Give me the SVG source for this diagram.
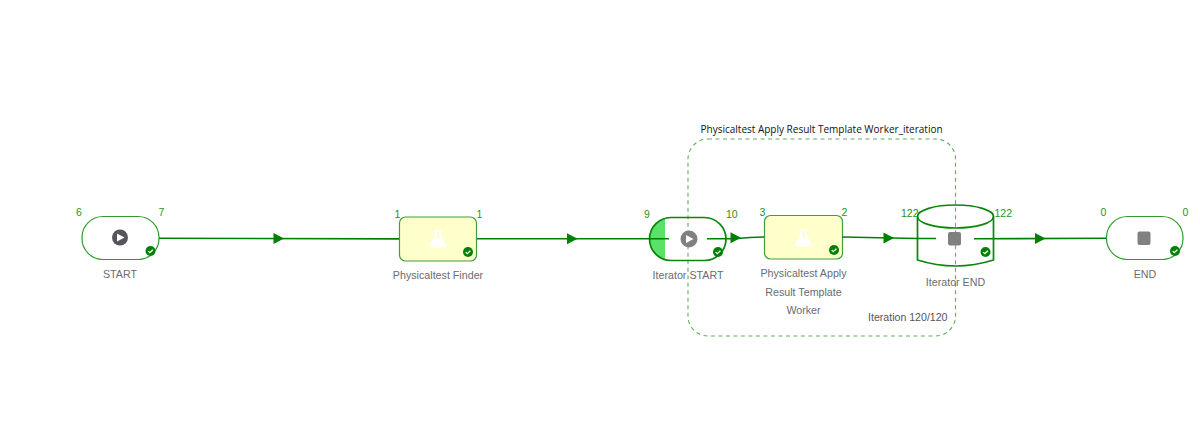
<svg xmlns="http://www.w3.org/2000/svg" width="1200" height="445" viewBox="0 0 1200 445">
<style>
text{font-family:"Liberation Sans",Arial,sans-serif;font-size:10.700px}
.c{fill:#1f931f;font-size:10.500px}
.l{fill:#6b6b70;text-anchor:middle}
.t{fill:#111;font-family:"Open Sans","Noto Sans",sans-serif;font-size:10px}
.n{fill:#fff;stroke:#2f9a2f;stroke-width:1.200}
.w{fill:#ffffcc;stroke:#3f9f3f;stroke-width:1.200}
.e{fill:none;stroke:#008000;stroke-width:1.600}
.i{fill:none;stroke:#0a860a;stroke-width:1.700}
</style>
<defs>
<g id="ok"><circle r="5" fill="#008000"/><path d="M-2.300 0.100L-0.700 1.700L2.400-1.300" fill="none" stroke="#fff" stroke-width="1.300"/></g>
<path id="flask" fill-rule="evenodd" d="M-4.500-9H4.500V-7.400H3.300V-3L8 5.500Q9 8.500 6.600 8.500H-6.600Q-9 8.500-8-5.500Z" fill="none"/>
<path id="flask2" fill-rule="evenodd" d="M-4.500-9H4.500V-7.400H3.300V-3L8 5.500Q9 8.500 6.600 8.500H-6.600Q-9 8.500-8 5.500L-3.300-3V-7.400H-4.500ZM-1.400-7.400V-2.500L-2.400-0.500H2.400L1.400-2.500V-7.400Z" fill="#fff"/>
<path id="ah" d="M-5-5.500L5.500 0L-5 5.500Z" fill="#008000"/>
</defs>
<g id="group-iteration">
<rect x="688" y="139" width="267.500" height="197" rx="20" fill="none" stroke="#5fb05f" stroke-width="1.100" stroke-dasharray="4 3.500"/>
<text class="t" x="700.500" y="133">Physicaltest Apply Result Template Worker_iteration</text>
<text x="868" y="321" style="fill:#555;font-size:10.600px">Iteration 120/120</text>
</g>
<g id="node-start">
<rect class="n" x="82" y="216.500" width="77" height="43" rx="21"/>
<circle cx="120" cy="237.500" r="8" fill="#55565c"/><path d="M117 233.500L124.500 237.500L117 241.500Z" fill="#fff"/>
<use href="#ok" x="150.500" y="251"/>
<text class="c" x="76" y="216">6</text><text class="c" x="158.500" y="216">7</text>
<text class="l" x="120" y="278">START</text>
</g>
<g id="node-finder">
<rect class="w" x="399.500" y="217" width="77" height="44" rx="6"/>
<use href="#flask2" x="438" y="239"/>
<use href="#ok" x="468" y="252"/>
<text class="c" x="394.500" y="218">1</text><text class="c" x="476.500" y="218">1</text>
<text class="l" x="438" y="279">Physicaltest Finder</text>
</g>
<g id="node-iterator-start">
<path d="M665 218V260Q649.500 256 649.500 239Q649.500 222 665 218Z" fill="#5be06a"/>
<rect x="649.500" y="217.500" width="76.500" height="43" rx="21.500" fill="none" stroke="#0a860a" stroke-width="1.700"/>
<circle cx="689" cy="239" r="8.500" fill="#808080"/><path d="M686 235L693.500 239L686 243Z" fill="#fff"/>
<use href="#ok" x="718" y="252"/>
<text class="c" x="644" y="218">9</text><text class="c" x="726" y="218">10</text>
<text class="l" x="688" y="279">Iterator START</text>
</g>
<g id="node-apply">
<rect class="w" x="764.500" y="215.500" width="78" height="43.500" rx="6"/>
<use href="#flask2" x="803.500" y="238"/>
<use href="#ok" x="834" y="250"/>
<text class="c" x="759.500" y="216">3</text><text class="c" x="841.500" y="216">2</text>
<text class="l" x="803.500" y="277">Physicaltest Apply</text>
<text class="l" x="803.500" y="295.500">Result Template</text>
<text class="l" x="803.500" y="313.500">Worker</text>
</g>
<g id="node-iterator-end">
<path class="i" d="M917.500 216.500V260Q955.500 272 993.500 260V216.500"/>
<ellipse class="i" cx="955.500" cy="216.500" rx="38" ry="11.500"/>
<rect x="948" y="232" width="13" height="13.500" rx="2" fill="#808080"/>
<use href="#ok" x="985.500" y="252"/>
<text class="c" x="901" y="217">122</text><text class="c" x="994.500" y="217">122</text>
<text class="l" x="955.500" y="286">Iterator END</text>
</g>
<g id="node-end">
<rect class="n" x="1106.500" y="216.500" width="76.500" height="43" rx="21"/>
<rect x="1137.500" y="231.500" width="13" height="13.500" rx="2" fill="#808080"/>
<use href="#ok" x="1175" y="251"/>
<text class="c" x="1100.500" y="216">0</text><text class="c" x="1182.500" y="216">0</text>
<text class="l" x="1145" y="278">END</text>
</g>
<g id="connectors">
<path class="e" d="M159 238.200L399 238.900"/>
<use href="#ah" x="278.500" y="238.500"/>
<path class="e" d="M477 238.800H669"/>
<use href="#ah" x="572" y="238.800"/>
<path class="e" d="M707 238.800H735Q750 237 764 237"/>
<use href="#ah" x="735.500" y="237.800"/>
<path class="e" d="M842 237L917 238.500H936"/>
<use href="#ah" x="888.500" y="238"/>
<path class="e" d="M974 238.800L1106 238.200"/>
<use href="#ah" x="1040" y="238.500"/>
</g>
</svg>
